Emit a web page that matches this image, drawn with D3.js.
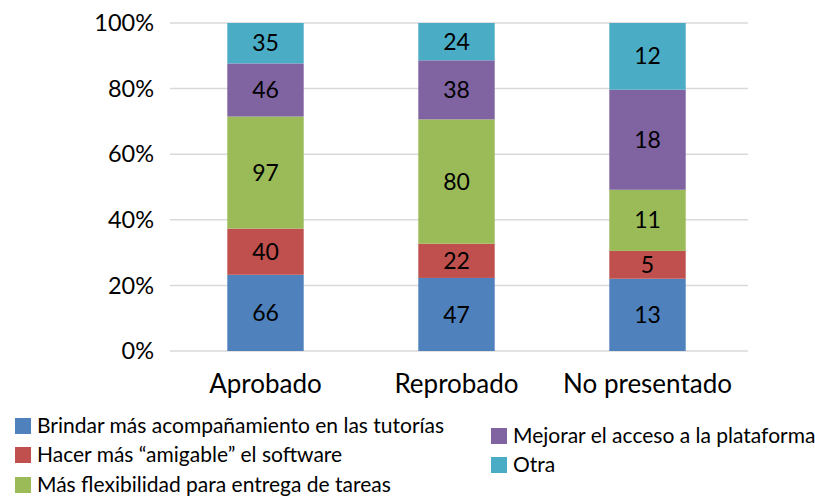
<!DOCTYPE html>
<html><head><meta charset="utf-8">
<script src="https://cdn.jsdelivr.net/npm/d3@7"></script>
<style>body{margin:0;background:#fff}svg{display:block}text{font-family:Lato,"Open Sans",sans-serif;fill:#000}</style>
</head><body><svg id="c" width="815" height="497"></svg>
<script>
const categories = ["Aprobado", "Reprobado", "No presentado"];
const seriesNames = ["Brindar más acompañamiento en las tutorías", "Hacer más “amigable” el software", "Más flexibilidad para entrega de tareas", "Mejorar el acceso a la plataforma", "Otra"];
const brindar = [66, 47, 13];
const hacer = [40, 22, 5];
const flexibilidad = [97, 80, 11];
const mejorar = [46, 38, 18];
const otra = [35, 24, 12];
const yTicks = [0, 0.2, 0.4, 0.6, 0.8, 1];
const colors = ["#4F81BD", "#C0504D", "#9BBB59", "#8064A2", "#4BACC6"];

const seriesVals = [brindar, hacer, flexibilidad, mejorar, otra];
const rows = categories.map((c, i) => {
  const r = {cat: c};
  seriesNames.forEach((s, j) => r[s] = seriesVals[j][i]);
  return r;
});
const stacked = d3.stack().keys(seriesNames).offset(d3.stackOffsetExpand)(rows);

const svg = d3.select("#c");
const x = d3.scaleBand().domain(categories).range([170, 743]).paddingInner(0.6).paddingOuter(0.3);
const y = d3.scaleLinear().domain([0, 1]).range([351, 23]);

// gridlines
svg.append("g").selectAll("line").data(yTicks).join("line")
  .attr("x1", 170).attr("x2", 748)
  .attr("y1", d => y(d)).attr("y2", d => y(d))
  .attr("stroke", "#d9d9d9").attr("stroke-width", 1.5);

// y labels
svg.append("g").selectAll("text").data(yTicks).join("text")
  .attr("x", 154).attr("y", d => y(d)).attr("dy", "0.35em")
  .attr("text-anchor", "end").attr("font-size", 23.5)
  .text(d => d3.format(".0%")(d));

// bars
stacked.forEach((s, j) => {
  const g = svg.append("g");
  g.selectAll("rect").data(s).join("rect")
    .attr("x", d => x(d.data.cat)).attr("width", x.bandwidth())
    .attr("y", d => y(d[1])).attr("height", d => y(d[0]) - y(d[1]))
    .attr("fill", colors[j]);
  g.selectAll("text").data(s).join("text")
    .attr("x", d => x(d.data.cat) + x.bandwidth() / 2)
    .attr("y", d => (y(d[0]) + y(d[1])) / 2).attr("dy", "0.35em")
    .attr("text-anchor", "middle").attr("font-size", 23)
    .text(d => d.data[s.key]);
});

// category labels
svg.append("g").selectAll("text").data(categories).join("text")
  .attr("x", d => x(d) + x.bandwidth() / 2).attr("y", 393)
  .attr("text-anchor", "middle").attr("font-size", 26)
  .text(d => d);

// legend
const legPos = [[15, 426], [15, 455], [15, 485], [491, 436], [491, 465]];
const leg = svg.append("g");
seriesNames.forEach((s, j) => {
  const [lx, ly] = legPos[j];
  leg.append("rect").attr("x", lx).attr("y", ly - 8).attr("width", 16).attr("height", 16).attr("fill", colors[j]);
  leg.append("text").attr("x", lx + 22).attr("y", ly).attr("dy", "0.35em").attr("font-size", 21).text(s);
});
</script></body></html>
